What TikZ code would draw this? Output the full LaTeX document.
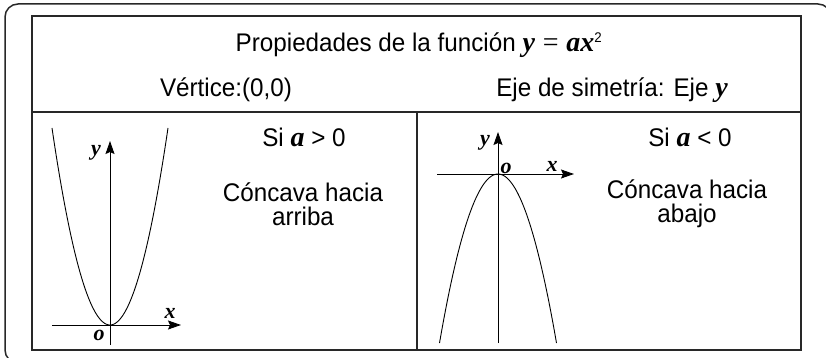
\documentclass[tikz,border=0pt]{standalone}
\usepackage{fontspec}
\setmainfont{Liberation Sans}[FakeStretch=0.95]
\newfontfamily\varfont{Liberation Serif}
\newcommand{\mvar}[1]{{\varfont\bfseries\itshape #1}}
\usetikzlibrary{arrows.meta}
\definecolor{framegray}{RGB}{40,40,40}

\begin{document}
\begin{tikzpicture}[x=1pt, y=-1pt, every node/.style={font=\fontsize{25.5}{24}\selectfont, text=black},
  axisline/.style={-{Stealth[length=13pt,width=9pt,inset=2pt]}, line width=0.9pt, black},
  curve/.style={line width=0.9pt, black},
  lbl/.style={font=\fontsize{22}{22}\selectfont\varfont\bfseries\itshape, inner sep=0pt},
  txt/.style={align=center, inner sep=0pt}]
\useasboundingbox (0,0) rectangle (826,358);
% frames
\draw[framegray, line width=1.5pt, rounded corners=13pt] (5,4) rectangle (831,363);
\draw[framegray, line width=1.1pt] (32,16) rectangle (801,350);
\coordinate (rowl) at (32,112);
\coordinate (rowr) at (801,112);
\coordinate (divt) at (417,112);
\coordinate (divb) at (417,350);
\draw[framegray, line width=1.1pt] (rowl) -- (rowr);
\draw[framegray, line width=1.1pt] (divt) -- (divb);
% header
\node[txt, anchor=base] (title) at (419,52) {Propiedades de la función {\fontsize{28}{28}\selectfont\mvar{y}\;{\varfont=}\;\mvar{ax}}\textsuperscript{\fontsize{14}{14}\selectfont 2}};
\node[txt, anchor=base] (vertex) at (226,97) {Vértice:(0,0)};
\node[txt, anchor=base] (symaxis) at (612,97) {Eje de simetría: Eje {\fontsize{28}{28}\selectfont\mvar{y}}};
% a > 0
\coordinate (lxl) at (52,325);
\coordinate (lxr) at (181,325);
\coordinate (lyb) at (110,345);
\coordinate (lyt) at (110,141);
\draw[axisline] (lxl) -- (lxr);
\draw[axisline] (lyb) -- (lyt);
\draw[curve] plot[domain=-58:58, samples=80, smooth] ({110+\x}, {325-0.05856*\x*\x});
\node[lbl] (ly) at (96,153) {y};
\node[lbl] (lx) at (170,313) {x};
\node[lbl] (lo) at (99,335) {o};
\node[txt, anchor=base] (lcond) at (304,147) {Si {\fontsize{28}{28}\selectfont\mvar{a}} > 0};
\node[txt] (lshape) at (303,204) {Cóncava hacia\\arriba};
% a < 0
\coordinate (rxl) at (437,174);
\coordinate (rxr) at (574,174);
\coordinate (ryb) at (498,343);
\coordinate (ryt) at (498,132);
\draw[axisline] (rxl) -- (rxr);
\draw[axisline] (ryb) -- (ryt);
\draw[curve] plot[domain=-58.5:58.5, samples=80, smooth] ({498+\x}, {174+0.04939*\x*\x});
\node[lbl] (ry) at (485,143) {y};
\node[lbl] (rx) at (552,166) {x};
\node[lbl] (ro) at (506,168) {o};
\node[txt, anchor=base] (rcond) at (690,147) {Si {\fontsize{28}{28}\selectfont\mvar{a}} < 0};
\node[txt] (rshape) at (687,204) {Cóncava hacia\\abajo};
\end{tikzpicture}
\end{document}
